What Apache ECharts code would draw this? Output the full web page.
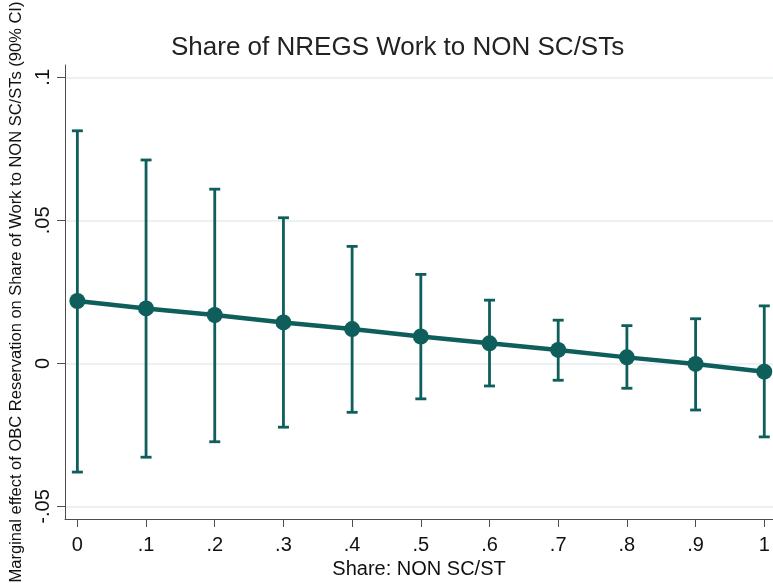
<!DOCTYPE html>
<html>
<head>
<meta charset="utf-8">
<script src="https://cdn.jsdelivr.net/npm/echarts@6/dist/echarts.min.js"></script>
<style>
  html, body { margin: 0; padding: 0; background: #ffffff; }
  #chart { width: 773px; height: 583px; }
</style>
</head>
<body>
<div id="chart"></div>
<script>
// Share of non-SC/ST households in the village
const shares = [0, 0.1, 0.2, 0.3, 0.4, 0.5, 0.6, 0.7, 0.8, 0.9, 1];
// Marginal effect of OBC reservation (point estimates)
const effect = [0.0218, 0.0192, 0.0169, 0.0143, 0.0120, 0.0094, 0.0070, 0.0047, 0.0021, -0.0002, -0.0029];
// 90% confidence interval bounds
const ciUpper = [0.0813, 0.0711, 0.0609, 0.0509, 0.0409, 0.0311, 0.0221, 0.0151, 0.0132, 0.0156, 0.0201];
const ciLower = [-0.0380, -0.0328, -0.0274, -0.0223, -0.0171, -0.0124, -0.0079, -0.0059, -0.0087, -0.0163, -0.0257];
// Axis tick values and their labels
const xTicks = [0, 0.1, 0.2, 0.3, 0.4, 0.5, 0.6, 0.7, 0.8, 0.9, 1];
const xTickLabels = ['0', '.1', '.2', '.3', '.4', '.5', '.6', '.7', '.8', '.9', '1'];
const yTicks = [-0.05, 0, 0.05, 0.1];
const yTickLabels = ['-.05', '0', '.05', '.1'];

const teal = '#0e5e5b';
const axisGrey = '#4d4d4d';
const font = '"Liberation Sans", Arial, Helvetica, sans-serif';

function fmt(list, labels) {
  return function (v) {
    for (let i = 0; i < list.length; i++) {
      if (Math.abs(list[i] - v) < 1e-9) return labels[i];
    }
    return '';
  };
}

const chart = echarts.init(document.getElementById('chart'), null, { renderer: 'canvas' });

const ciData = shares.map((s, i) => [s, ciLower[i], ciUpper[i]]);
const pointData = shares.map((s, i) => [s, effect[i]]);

chart.setOption({
  animation: false,
  backgroundColor: '#ffffff',
  title: {
    text: 'Share of NREGS Work to NON SC/STs',
    left: 166,
    top: 30,
    textStyle: { fontFamily: font, fontSize: 26, fontWeight: 'normal', color: '#222222' }
  },
  grid: { left: 65, right: 0, top: 65, bottom: 64, containLabel: false, outerBoundsMode: 'none' },
  xAxis: {
    type: 'value',
    min: -0.018,
    max: 1.0127,
    name: 'Share: NON SC/ST',
    nameLocation: 'middle',
    nameGap: 36,
    nameTextStyle: { fontFamily: font, fontSize: 20, color: '#111111' },
    axisLine: { show: true, onZero: false, lineStyle: { color: axisGrey, width: 1 } },
    axisTick: { show: true, length: 8, customValues: xTicks, lineStyle: { color: axisGrey } },
    axisLabel: {
      customValues: xTicks,
      formatter: fmt(xTicks, xTickLabels),
      margin: 16,
      fontFamily: font, fontSize: 20, color: '#111111'
    },
    splitLine: { show: false }
  },
  yAxis: {
    type: 'value',
    min: -0.0544,
    max: 0.1043,
    name: 'Marginal effect of OBC Reservation on Share of Work to NON SC/STs (90% CI)',
    nameLocation: 'middle',
    nameGap: 40,
    nameRotate: 90,
    nameTextStyle: { fontFamily: font, fontSize: 16.5, color: '#111111' },
    axisLine: { show: true, onZero: false, lineStyle: { color: axisGrey, width: 1 } },
    axisTick: { show: true, length: 8, customValues: yTicks, lineStyle: { color: axisGrey } },
    axisLabel: {
      customValues: yTicks,
      formatter: fmt(yTicks, yTickLabels),
      rotate: 90,
      margin: 12,
      fontFamily: font, fontSize: 20, color: '#111111'
    },
    splitLine: { show: true, lineStyle: { color: '#e6eef1', width: 1.5 } }
  },
  series: [
    {
      type: 'custom',
      name: 'CI',
      data: ciData,
      z: 2,
      renderItem: function (params, api) {
        const x = api.value(0);
        const lo = api.coord([x, api.value(1)]);
        const hi = api.coord([x, api.value(2)]);
        const cap = 5.5;
        const style = { stroke: teal, lineWidth: 2.8, fill: null };
        return {
          type: 'group',
          children: [
            { type: 'line', shape: { x1: lo[0], y1: lo[1], x2: hi[0], y2: hi[1] }, style: style },
            { type: 'line', shape: { x1: hi[0] - cap, y1: hi[1], x2: hi[0] + cap, y2: hi[1] }, style: style },
            { type: 'line', shape: { x1: lo[0] - cap, y1: lo[1], x2: lo[0] + cap, y2: lo[1] }, style: style }
          ]
        };
      }
    },
    {
      type: 'line',
      name: 'Effect',
      data: pointData,
      z: 3,
      symbol: 'circle',
      symbolSize: 16,
      lineStyle: { color: teal, width: 4.5 },
      itemStyle: { color: teal }
    }
  ]
});
</script>
</body>
</html>
